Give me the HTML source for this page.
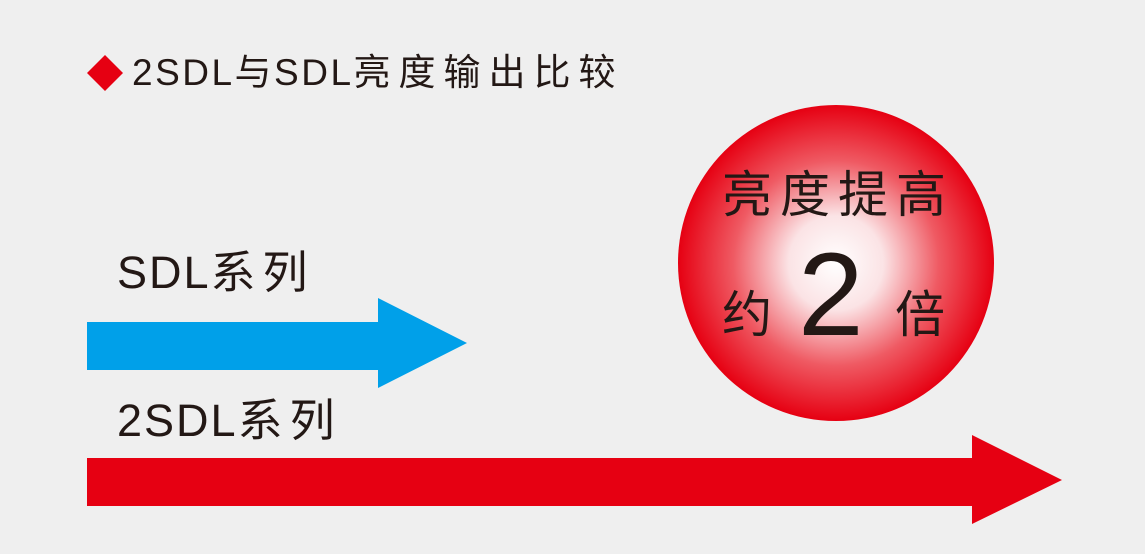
<!DOCTYPE html>
<html><head><meta charset="utf-8"><style>
body{margin:0;width:1145px;height:554px;background:#efefef;overflow:hidden;position:relative;font-family:"Liberation Sans","Noto Sans CJK SC",sans-serif;color:#231815}
.t{position:absolute;white-space:nowrap;line-height:1}
.c{letter-spacing:8px}
</style></head><body>
<svg width="1145" height="554" style="position:absolute;left:0;top:0">
<defs><radialGradient id="g" cx="0.5" cy="0.5" r="0.5">
<stop offset="0" stop-color="#ffffff"/><stop offset="0.3" stop-color="#fbe3e5"/><stop offset="0.65" stop-color="#ef5a63"/><stop offset="1" stop-color="#e60012"/></radialGradient></defs>
<polygon points="105,55 123,73 105,91 87,73" fill="#e60012"/>
<polygon points="87,322 378,322 378,298 467,343 378,388 378,370 87,370" fill="#00a0e9"/>
<polygon points="87,458 972,458 972,435 1062,480 972,524 972,506 87,506" fill="#e60012"/>
<circle cx="836" cy="263" r="158" fill="url(#g)"/>
</svg>
<div class="t" style="left:132px;top:54px;font-size:37px;letter-spacing:2.5px">2SDL与SDL<span class="c">亮度输出比较</span></div>
<div class="t" style="left:117px;top:250px;font-size:45px;letter-spacing:2px">SDL<span style="letter-spacing:7px">系列</span></div>
<div class="t" style="left:117px;top:398px;font-size:45px;letter-spacing:2px">2SDL<span style="letter-spacing:7px">系列</span></div>
<div class="t" style="left:722px;top:170px;font-size:50px;letter-spacing:8px">亮度提高</div>
<div class="t" style="left:722px;top:290px;font-size:50px">约</div>
<div class="t" style="left:798px;top:236px;font-size:118px">2</div>
<div class="t" style="left:895px;top:290px;font-size:50px">倍</div>
</body></html>
